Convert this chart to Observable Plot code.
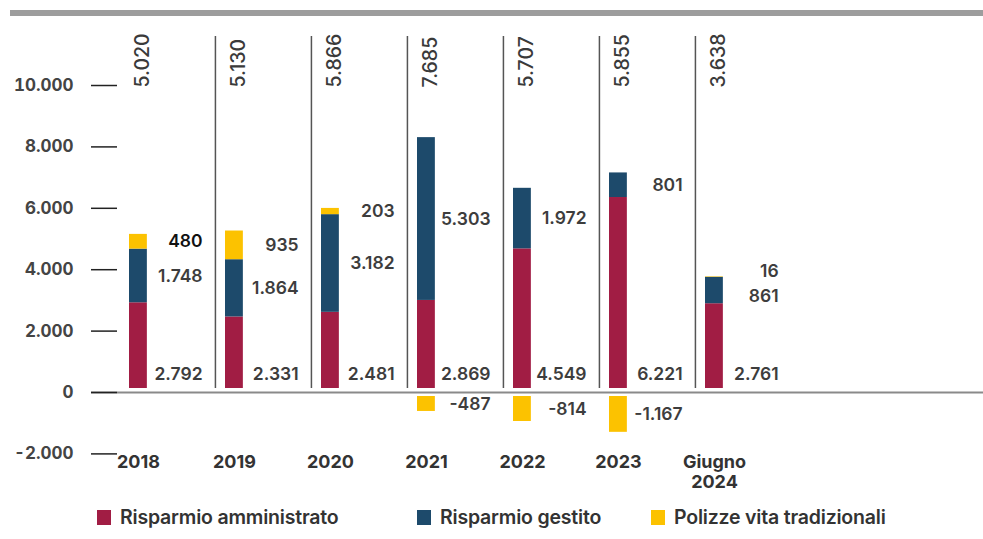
<!DOCTYPE html>
<html><head><meta charset="utf-8">
<script src="https://cdn.jsdelivr.net/npm/d3@7"></script>
<script src="https://cdn.jsdelivr.net/npm/@observablehq/plot@0.6"></script>
<style>
body{margin:0;background:#fff;font-family:Inter,"DejaVu Sans",sans-serif;}
#wrap{position:relative;width:983px;height:539px;overflow:hidden;}
#topbar{position:absolute;left:10px;right:0;top:10px;height:6px;background:#9d9d9d;}
#chart{position:absolute;left:0;top:0;}
.leg{position:absolute;top:505px;display:flex;align-items:center;font-weight:600;font-size:19.5px;color:#333;white-space:nowrap;letter-spacing:-0.2px;}
.sw{width:14px;height:15px;margin-right:9px;}
</style></head><body>
<div id="wrap"><div id="chart"></div><div id="topbar"></div><div id="legend"></div></div>
<script>
const categories = ["2018","2019","2020","2021","2022","2023","Giugno 2024"];
const amministrato = [2792,2331,2481,2869,4549,6221,2761];
const gestito = [1748,1864,3182,5303,1972,801,861];
const polizze = [480,935,203,-487,-814,-1167,16];
const totals = [5020,5130,5866,7685,5707,5855,3638];
const seriesNames = ["Risparmio amministrato","Risparmio gestito","Polizze vita tradizionali"];
const seriesColors = ["#a11d44","#1d4a6b","#fcc200"];
const yTicks = [-2000,0,2000,4000,6000,8000,10000];

const fmt = d3.formatLocale({decimal:",",thousands:".",grouping:[3],currency:["€",""],minus:"-"}).format(",d");

const W = 983, H = 495;
const xRange = [118, 791];
const step = (xRange[1]-xRange[0]) / categories.length;
const yTop = 11466;

const rows = [];
const seriesVals = [amministrato, gestito, polizze];
seriesVals.forEach((arr, s) => arr.forEach((v, i) => rows.push({cat: categories[i], series: seriesNames[s], value: v})));
const pos = rows.filter(r => r.value > 0);
const neg = rows.filter(r => r.value < 0);

// label layout
const redLabels = [], posLabels = [], negLabels = [];
categories.forEach((c, i) => {
  redLabels.push({cat: c, text: fmt(amministrato[i])});
  let yB = amministrato[i] + gestito[i]/2;
  if (polizze[i] > 0) {
    let yY = amministrato[i] + gestito[i] + polizze[i]/2;
    if (yY - yB < 800) { const m = (yY + yB)/2; yB = m - 400; yY = m + 400; }
    posLabels.push({cat: c, y: yY, text: fmt(polizze[i]), fill: i === 0 ? "#111" : "#3d3d3d"});
  } else {
    negLabels.push({cat: c, y: polizze[i]/2, text: fmt(polizze[i])});
  }
  posLabels.push({cat: c, y: yB, text: fmt(gestito[i]), fill: "#3d3d3d"});
});

const labelOpts = {textAnchor: "end", dx: step/2 - 13, fontSize: 17.5, fontWeight: 600};

const chart = Plot.plot({
  width: W, height: H,
  marginTop: 40, marginLeft: 117, marginRight: 0, marginBottom: H - 453.4,
  style: {fontFamily: "Inter, DejaVu Sans, sans-serif", background: "transparent"},
  x: {type: "band", domain: categories, range: xRange, padding: 0, axis: null},
  y: {domain: [-2000, yTop], nice: false, axis: null},
  color: {domain: seriesNames, range: seriesColors},
  marks: [
    Plot.ruleX(categories.slice(1), {x: d => d, y1: 0, y2: yTop, dx: -step/2, dy: -4, stroke: "#555", strokeWidth: 1.5}),
    Plot.ruleY([0], {stroke: "#8a8a8a", strokeWidth: 2, insetLeft: -26}),
    Plot.barY(pos, {x: "cat", y: "value", fill: "series", insetLeft: 10, insetRight: step - 28, dy: -4}),
    Plot.barY(neg, {x: "cat", y: "value", fill: "series", insetLeft: 10, insetRight: step - 28, dy: 4}),
    Plot.text(redLabels, {x: "cat", y: () => 0, text: "text", dy: -18, fill: "#3d3d3d", ...labelOpts}),
    Plot.text(posLabels, {x: "cat", y: "y", text: "text", dy: -4, fill: "fill", ...labelOpts}),
    Plot.text(negLabels, {x: "cat", y: "y", text: "text", dy: 4, fill: "#3d3d3d", ...labelOpts}),
    Plot.text(categories, {x: d => d, text: (d, i) => fmt(totals[i]), frameAnchor: "top", rotate: -90, textAnchor: "start", dy: 47, dx: -32, fontSize: 19.5, fontWeight: 500, fill: "#3a3a3a"}),
    Plot.axisY(yTicks, {tickSize: 26, tickPadding: 18, tickFormat: fmt, fontSize: 17, fontWeight: 700, stroke: "#222", strokeWidth: 1.5, fill: "#444", label: null}),
    Plot.text(categories, {x: d => d, text: d => d.replace(" ", "\n"), frameAnchor: "bottom", lineAnchor: "top", dx: -29, dy: 0, lineHeight: 1.1, fontSize: 18, fontWeight: 700, fill: "#333"})
  ]
});
document.getElementById("chart").appendChild(chart);

const legend = document.getElementById("legend");
const legLeft = [97, 417, 651];
seriesNames.forEach((n, i) => {
  const d = document.createElement("div");
  d.className = "leg";
  d.style.left = legLeft[i] + "px";
  d.innerHTML = `<div class="sw" style="background:${seriesColors[i]}"></div><span>${n}</span>`;
  legend.appendChild(d);
});
</script>
</body></html>
